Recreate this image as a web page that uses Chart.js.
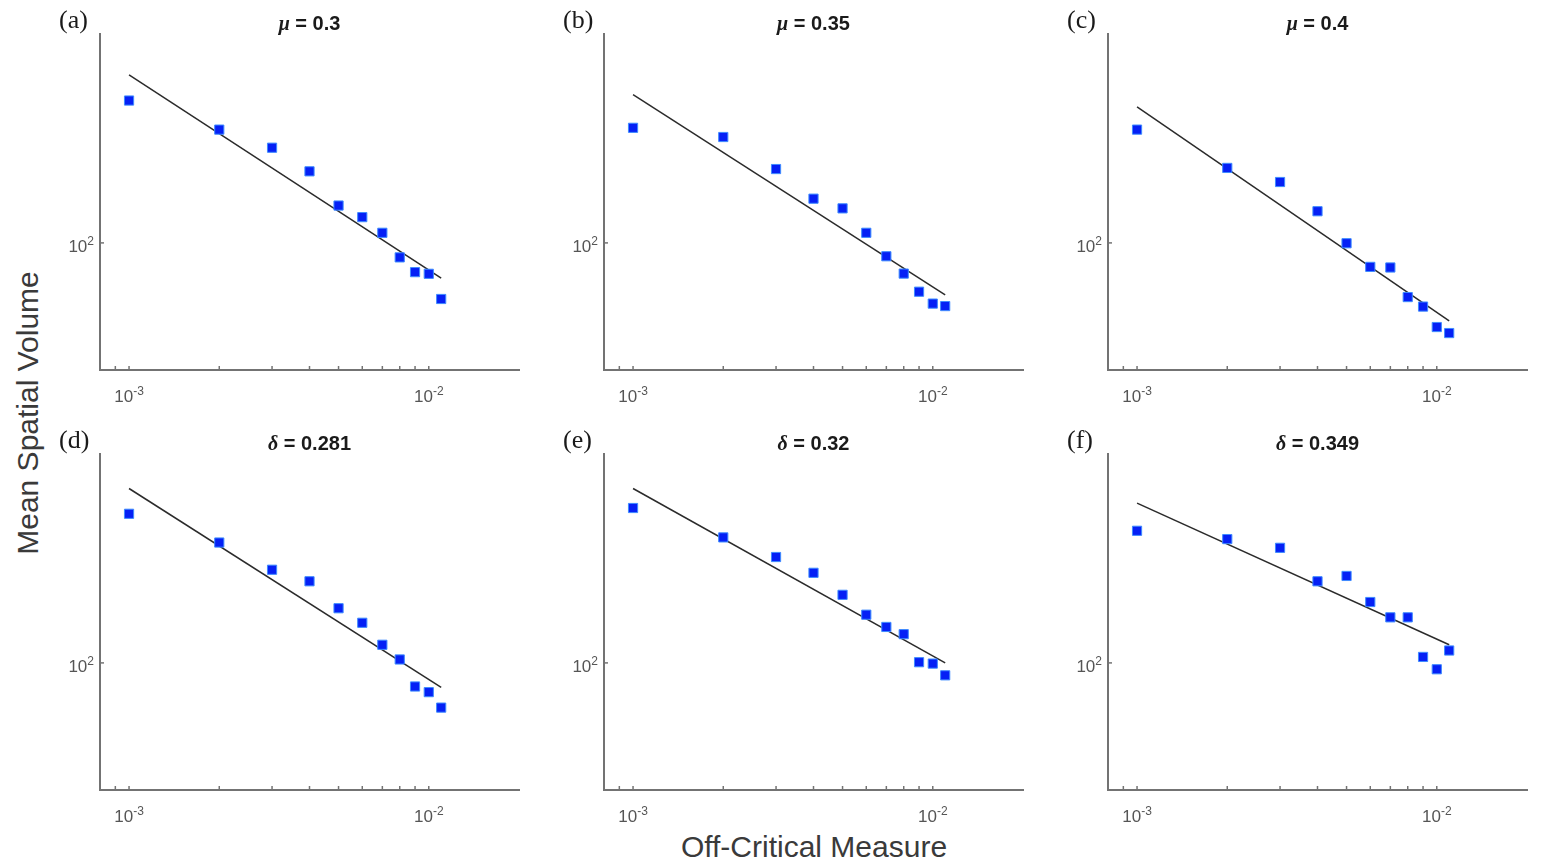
<!DOCTYPE html>
<html>
<head>
<meta charset="utf-8">
<title>Mean Spatial Volume vs Off-Critical Measure</title>
<script src="https://cdn.jsdelivr.net/npm/chart.js"></script>
<style>
  body { margin: 0; background: #fff; width: 1548px; height: 863px; position: relative; overflow: hidden;
         font-family: 'Liberation Sans', Arial, Helvetica, sans-serif; }
  canvas.panel { position: absolute; }
  .tag { position: absolute; font-family: 'Liberation Serif', 'Times New Roman', serif; font-size: 26px;
         line-height: 26px; color: #1a1a1a; }
  .ttl { position: absolute; width: 419px; text-align: center; font-weight: bold; font-size: 20px;
         line-height: 20px; color: #1a1a1a; }
  .ttl i { font-family: 'Liberation Serif', 'Times New Roman', serif; }
  #ylab { position: absolute; font-size: 30px; line-height: 30px; color: #3a3a3a; white-space: nowrap;
          left: 28px; top: 413px; transform: translate(-50%, -50%) rotate(-90deg); }
  #xlab { position: absolute; font-size: 30px; line-height: 30px; color: #3a3a3a; white-space: nowrap;
          left: 814px; top: 832px; transform: translateX(-50%); }
</style>
</head>
<body>
<div id="ylab">Mean Spatial Volume</div>
<div id="xlab">Off-Critical Measure</div>
<script>
// off-critical measure (x) shared by every panel
const offCritical = [0.001, 0.002, 0.003, 0.004, 0.005, 0.006, 0.007, 0.008, 0.009, 0.010, 0.011];

// mean spatial volume
const volA = [227, 192, 173, 151, 124, 116, 106, 92, 84.5, 83.7, 72.4];
const volB = [194, 184, 153, 129, 122, 106, 92.6, 83.8, 75.5, 70.5, 69.5];
const volC = [192, 154, 142, 120, 99.8, 87.1, 86.8, 73.2, 69.3, 61.6, 59.5];
const volD = [236, 200, 171, 160, 137, 126, 111, 102, 87.3, 84.5, 77.3];
const volE = [244, 206, 184, 168, 148, 132, 123, 118, 100.4, 99.6, 93.1];
const volF = [214, 204, 194, 160, 165, 142, 130, 130, 103.5, 96.4, 107.4];

// fitted power-law line: value at first and last x
const fitX = [0.001, 0.011];
const fitA = [263, 81.6];
const fitB = [235, 74.1];
const fitC = [219, 63.8];
const fitD = [273, 86.8];
const fitE = [273, 100];
const fitF = [251, 111];

const panelTags = ['(a)', '(b)', '(c)', '(d)', '(e)', '(f)'];
const paramNames = ['\u03bc', '\u03bc', '\u03bc', '\u03b4', '\u03b4', '\u03b4'];
const paramValues = ['0.3', '0.35', '0.4', '0.281', '0.32', '0.349'];

// axis limits and ticks
const xMin = 0.0008, xMax = 0.02;
const yMin = 48.1, yMax = 333;
const xTickVals = [0.0008, 0.0009, 0.001, 0.002, 0.003, 0.004, 0.005, 0.006, 0.007, 0.008, 0.009, 0.01];
const xLabelVals = [0.001, 0.01];
const yLabelVals = [100];

const volumes = [volA, volB, volC, volD, volE, volF];
const fits = [fitA, fitB, fitC, fitD, fitE, fitF];

// layout
const colLeft = [100, 604, 1108];
const rowTop = [34, 454];
const plotW = 419, plotH = 336;
const padL = 70, padT = 12, padR = 10, padB = 45;
const axisColor = '#737373';

function drawPow(ctx, v, px, baseY, align) {
  const base = '10', sup = String(Math.round(Math.log10(v)));
  ctx.font = '17px "Liberation Sans", Arial, sans-serif';
  const wb = ctx.measureText(base).width;
  ctx.font = '12px "Liberation Sans", Arial, sans-serif';
  const ws = ctx.measureText(sup).width;
  const start = align === 'center' ? px - (wb + ws) / 2 : px - (wb + ws);
  ctx.textAlign = 'left';
  ctx.textBaseline = 'alphabetic';
  ctx.font = '17px "Liberation Sans", Arial, sans-serif';
  ctx.fillText(base, start, baseY);
  ctx.font = '12px "Liberation Sans", Arial, sans-serif';
  ctx.fillText(sup, start + wb, baseY - 7);
}

const logTicks = {
  id: 'logTicks',
  afterDraw(chart) {
    const { ctx, chartArea: a, scales: { x, y } } = chart;
    ctx.save();
    ctx.strokeStyle = axisColor;
    ctx.lineWidth = 1.5;
    xTickVals.forEach(v => {
      const px = x.getPixelForValue(v);
      ctx.beginPath(); ctx.moveTo(px, a.bottom); ctx.lineTo(px, a.bottom - 4); ctx.stroke();
    });
    yLabelVals.forEach(v => {
      const py = y.getPixelForValue(v);
      ctx.beginPath(); ctx.moveTo(a.left, py); ctx.lineTo(a.left + 4, py); ctx.stroke();
    });
    ctx.fillStyle = '#555';
    xLabelVals.forEach(v => drawPow(ctx, v, x.getPixelForValue(v), a.bottom + 32, 'center'));
    yLabelVals.forEach(v => drawPow(ctx, v, a.left - 6, y.getPixelForValue(v) + 9, 'right'));
    ctx.restore();
  }
};

volumes.forEach((vol, i) => {
  const col = i % 3, row = Math.floor(i / 3);
  const left = colLeft[col], top = rowTop[row];

  const cv = document.createElement('canvas');
  cv.className = 'panel';
  cv.width = padL + plotW + padR;
  cv.height = padT + plotH + padB;
  cv.style.left = (left - padL) + 'px';
  cv.style.top = (top - padT) + 'px';
  document.body.appendChild(cv);

  const tag = document.createElement('div');
  tag.className = 'tag';
  tag.textContent = panelTags[i];
  tag.style.left = (left - 41) + 'px';
  tag.style.top = (top - 27) + 'px';
  document.body.appendChild(tag);

  const ttl = document.createElement('div');
  ttl.className = 'ttl';
  ttl.innerHTML = '<i>' + paramNames[i] + '</i> = ' + paramValues[i];
  ttl.style.left = left + 'px';
  ttl.style.top = (top - 21) + 'px';
  document.body.appendChild(ttl);

  new Chart(cv, {
    type: 'scatter',
    data: {
      datasets: [
        {
          data: offCritical.map((x, k) => ({ x: x, y: vol[k] })),
          pointStyle: 'rect',
          pointRadius: 6.5,
          backgroundColor: '#0520f5',
          borderColor: '#3f8cff',
          borderWidth: 1,
          showLine: false
        },
        {
          data: fitX.map((x, k) => ({ x: x, y: fits[i][k] })),
          showLine: true,
          pointRadius: 0,
          borderColor: '#2b2b2b',
          borderWidth: 1.5,
          fill: false
        }
      ]
    },
    plugins: [logTicks],
    options: {
      responsive: false,
      animation: false,
      layout: { padding: { top: padT, right: padR, left: 0, bottom: 0 } },
      plugins: { legend: { display: false }, tooltip: { enabled: false } },
      scales: {
        x: {
          type: 'logarithmic', min: xMin, max: xMax,
          grid: { display: false }, ticks: { display: false },
          border: { display: true, color: axisColor, width: 2 },
          afterFit: s => { s.height = padB; }
        },
        y: {
          type: 'logarithmic', min: yMin, max: yMax,
          grid: { display: false }, ticks: { display: false },
          border: { display: true, color: axisColor, width: 2 },
          afterFit: s => { s.width = padL; }
        }
      }
    }
  });
});
</script>
</body>
</html>
